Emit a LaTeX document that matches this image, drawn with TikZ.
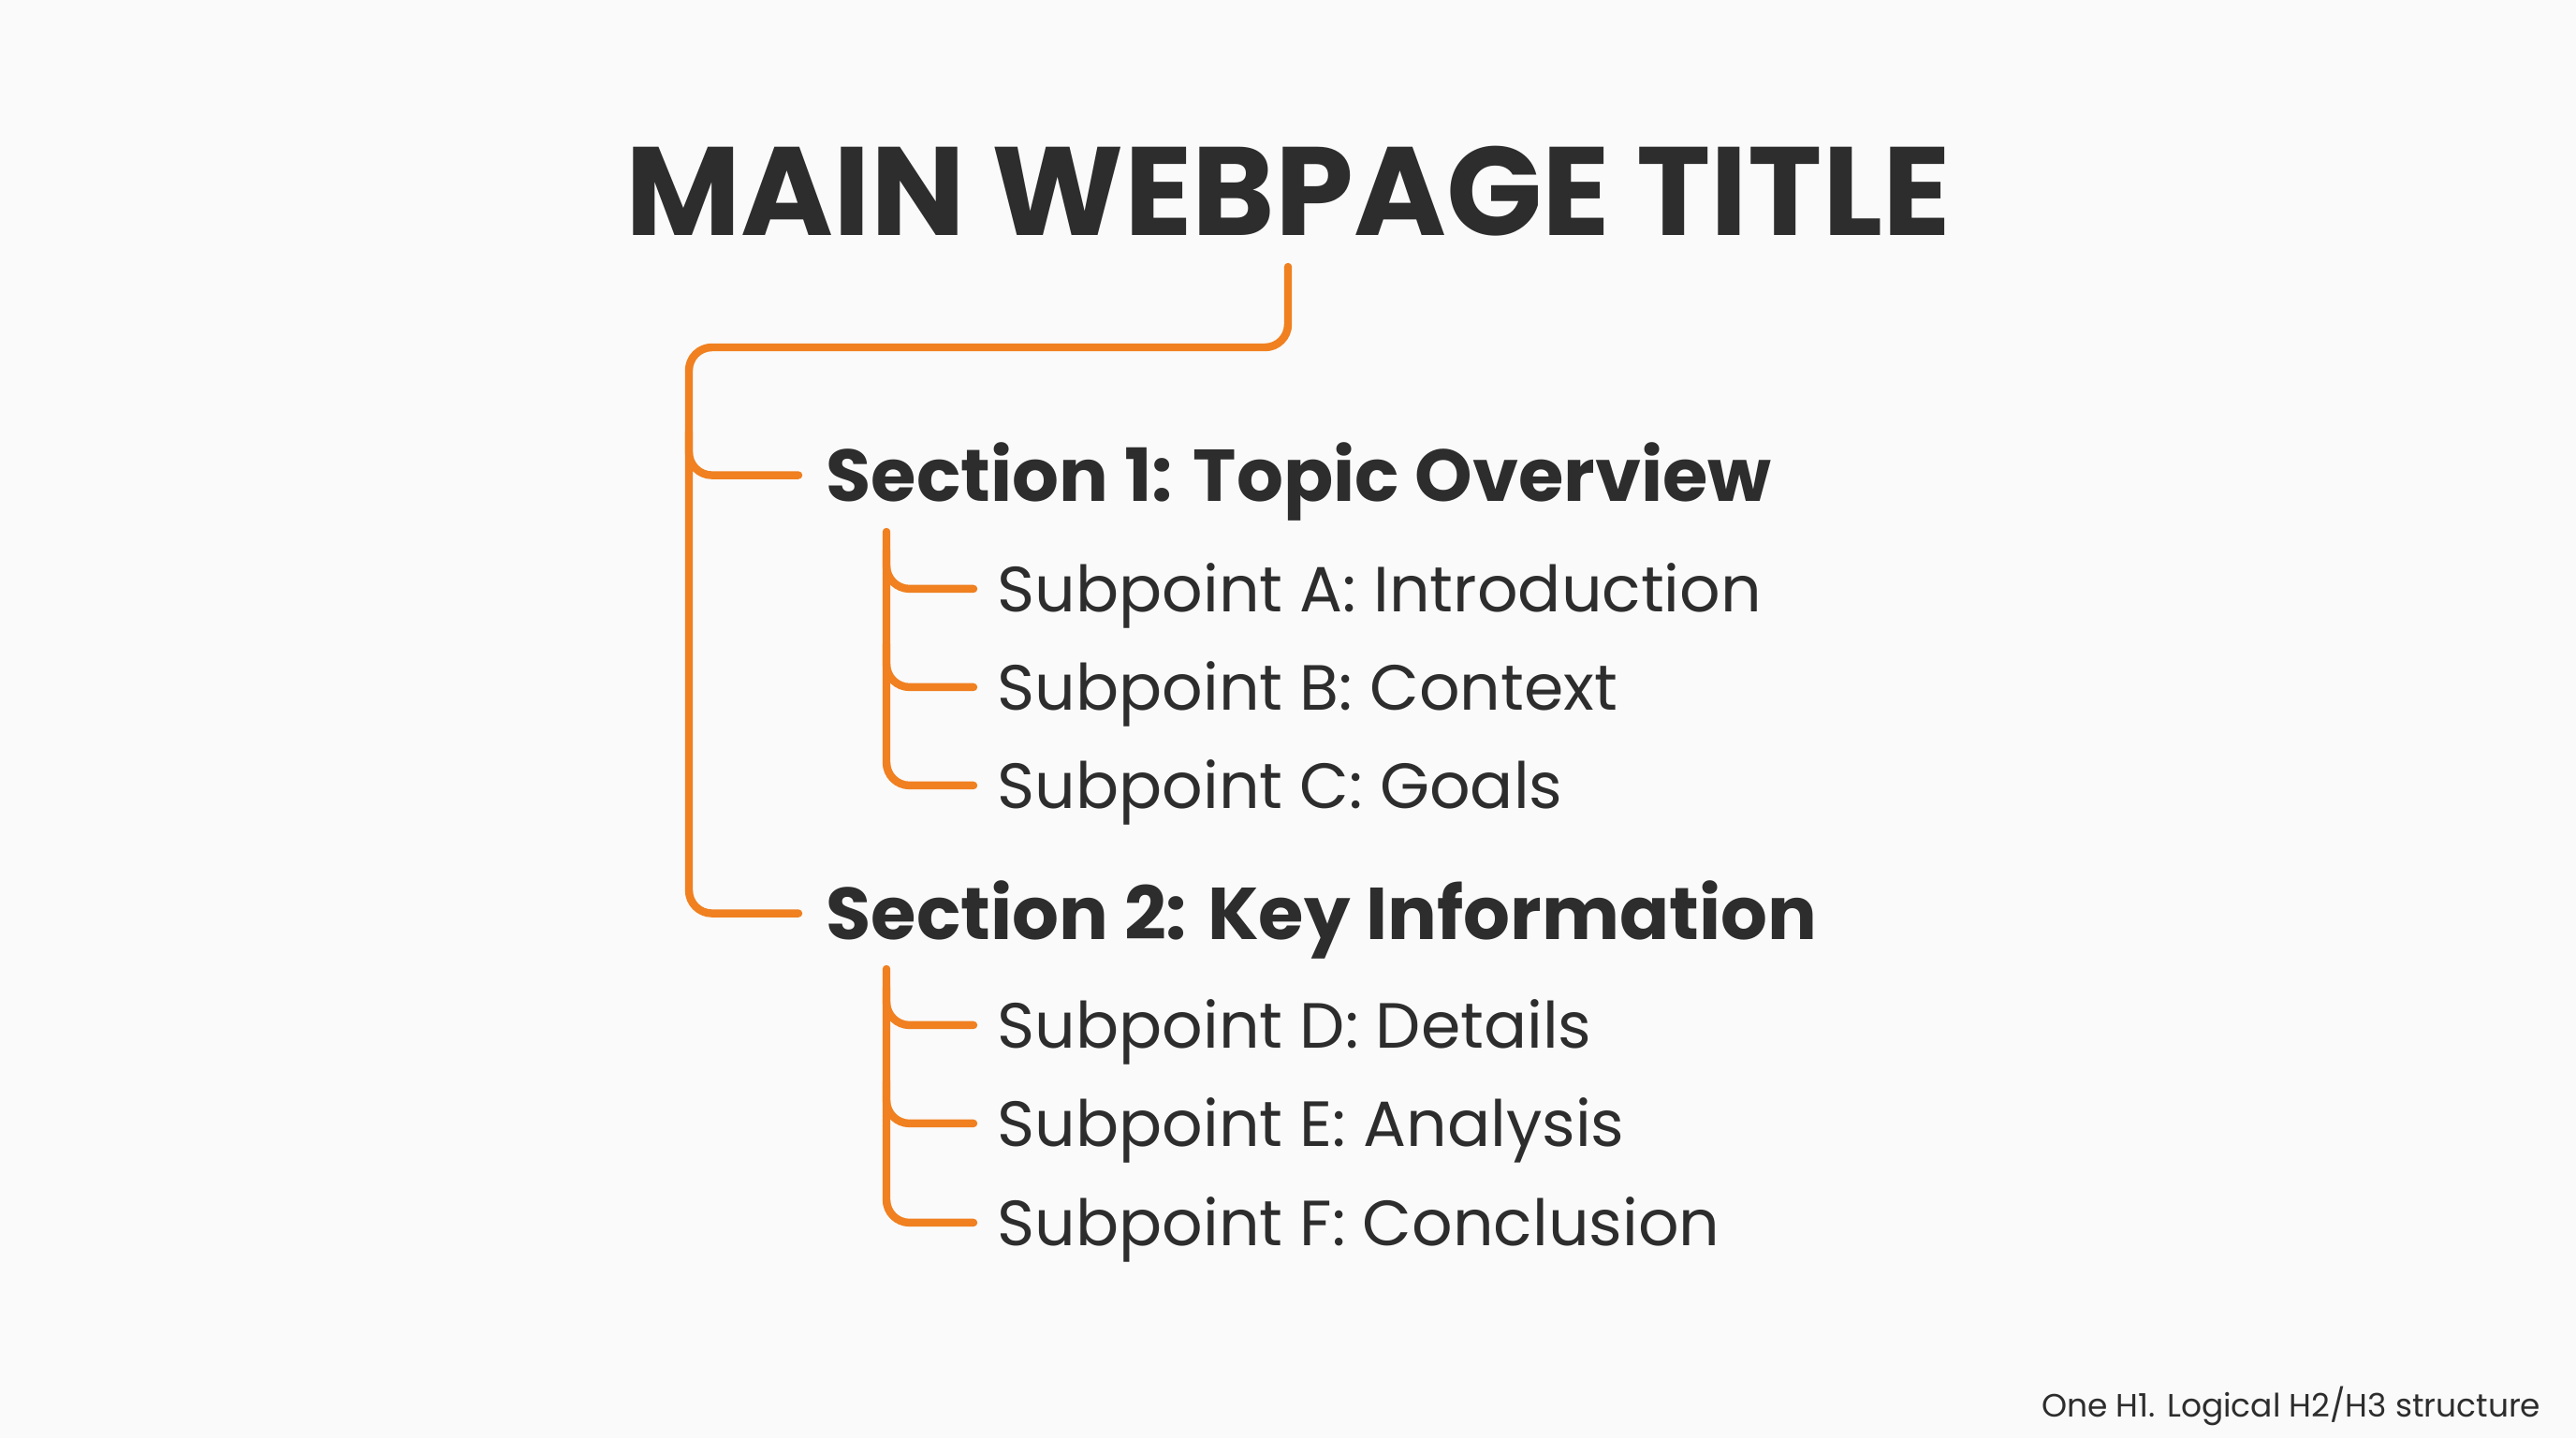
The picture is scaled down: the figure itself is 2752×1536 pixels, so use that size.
\documentclass[tikz,border=0pt]{standalone}
\usepackage{fontspec}
\setmainfont{Poppins}
\usetikzlibrary{calc}
\definecolor{bgc}{RGB}{250,250,250}
\definecolor{ink}{RGB}{45,45,45}
\definecolor{org}{RGB}{240,128,32}
\begin{document}
\begin{tikzpicture}[x=0.01cm,y=-0.01cm,
  titletext/.style={font=\fontsize{38.2}{40}\selectfont\bfseries, text=ink, inner sep=0pt, anchor=base},
  secttext/.style={font=\fontsize{22.3}{24}\selectfont\bfseries, text=ink, inner sep=0pt, text height=15.6pt, text depth=0pt, anchor=base west},
  subtext/.style={font=\fontsize{19.4}{21}\selectfont, text=ink, inner sep=0pt, text height=13.7pt, text depth=0pt, anchor=base west},
  foottext/.style={font=\fontsize{9.8}{11}\selectfont, text=ink, inner sep=0pt, anchor=base east},
  link/.style={draw=org, line width=2.4pt, line cap=round, rounded corners=7pt}]
\fill[bgc] (0,0) rectangle (2752,1536);
\useasboundingbox (0,0) rectangle (2752,1536);

% texts
\node[titletext] (title) at (1376,251) {MAIN WEBPAGE TITLE};
\node[secttext] (s1) at (882,535) {Section 1: Topic Overview};
\node[subtext] (a) at (1065,653) {Subpoint A: Introduction};
\node[subtext] (b) at (1065,758) {Subpoint B: Context};
\node[subtext] (c) at (1065,863) {Subpoint C: Goals};
\node[secttext] (s2) at (882,1003) {Section 2: Key Information};
\node[subtext] (d) at (1065,1119) {Subpoint D: Details};
\node[subtext] (e) at (1065,1224) {Subpoint E: Analysis};
\node[subtext] (f) at (1065,1330) {Subpoint F: Conclusion};
\node[foottext] (foot) at (2715,1513) {One H1. Logical H2/H3 structure};

% connector anchors
\coordinate (t0) at (1376,285);
\coordinate (trunk) at (736,371);
\coordinate (v1) at (947,568);
\coordinate (v2) at (947,1035);

% main trunk
\draw[link] (t0) |- (trunk) |- ($(s2.west)+(-29,0)$);
\draw[link] ($(trunk)+(0,90)$) |- ($(s1.west)+(-29,0)$);

% section 1 subtree
\draw[link] (v1) |- ($(c.west)+(-25,0)$);
\draw[link] ($(v1)+(0,20)$) |- ($(a.west)+(-25,0)$);
\draw[link] ($(v1)+(0,120)$) |- ($(b.west)+(-25,0)$);

% section 2 subtree
\draw[link] (v2) |- ($(f.west)+(-25,0)$);
\draw[link] ($(v2)+(0,20)$) |- ($(d.west)+(-25,0)$);
\draw[link] ($(v2)+(0,120)$) |- ($(e.west)+(-25,0)$);
\end{tikzpicture}
\end{document}
